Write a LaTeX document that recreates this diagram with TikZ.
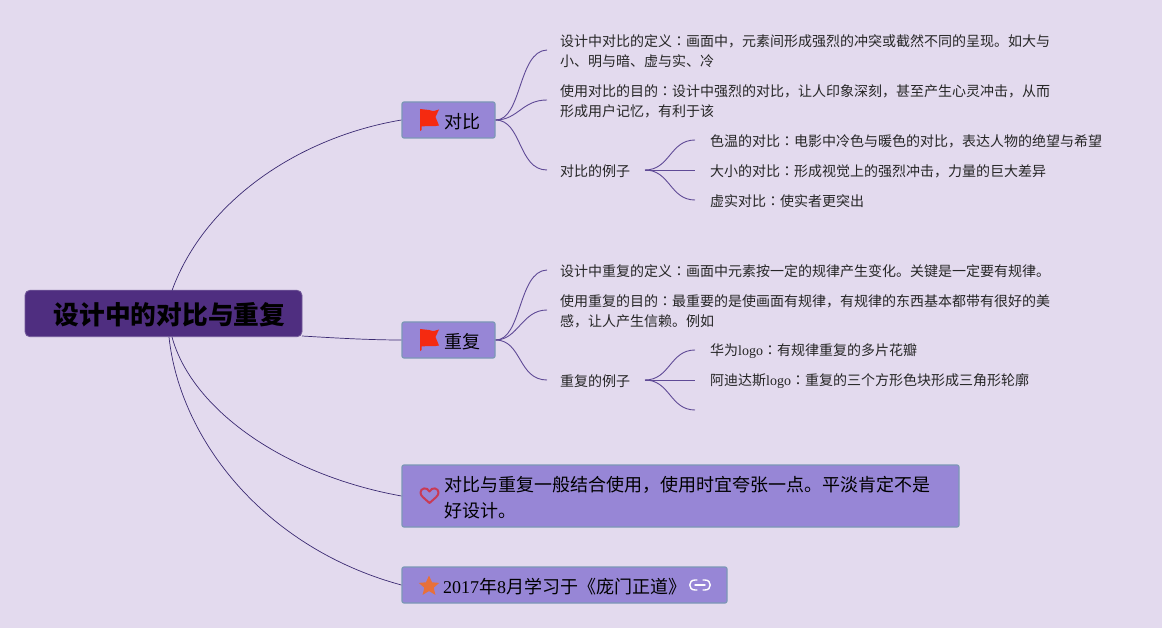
\documentclass[tikz,border=0pt]{standalone}
\usepackage{fontspec}
\setmainfont{Noto Sans CJK SC}
\newfontfamily\latf{Liberation Serif}
\newfontfamily\tcf{Noto Sans CJK TC}
\newcommand{\lat}[1]{{\latf #1}}
\newcommand{\cc}{{\tcf ：}}
\newcommand{\bl}[2]{\hspace*{#1}\raisebox{-2pt}[\height][\depth]{#2}}
\definecolor{bgc}{HTML}{E3DAEE}
\definecolor{rootc}{HTML}{4F2E80}
\definecolor{boxc}{HTML}{9786D6}
\definecolor{boxb}{HTML}{7C97B6}
\definecolor{linec}{HTML}{3B2A72}
\definecolor{sublinec}{HTML}{5F4A96}
\definecolor{flagc}{HTML}{F52A10}
\definecolor{heartc}{HTML}{C93A55}
\definecolor{starc}{HTML}{E8703A}
\tikzset{
  x=1pt,y=-1pt,
  rootbox/.style={fill=rootc,draw=rootc!80!white,rounded corners=5pt,line width=0.8pt,inner sep=0pt,text=black,font=\fontsize{25.7}{30}\selectfont\bfseries,minimum width=277pt,minimum height=46.5pt},
  topic/.style={fill=boxc,draw=boxb,rounded corners=2pt,line width=1.2pt,inner xsep=0pt,inner ysep=0pt,align=left,text=black,font=\fontsize{18}{26}\selectfont},
  leaf/.style={anchor=west,inner sep=0pt,align=left,text=black!85,font=\fontsize{14}{20}\selectfont},
  mainline/.style={draw=linec,line width=0.7pt},
  subline/.style={draw=sublinec,line width=0.9pt},
  linkline/.style={white,line width=1.4pt,line cap=round},
}
\begin{document}
\begin{tikzpicture}
\useasboundingbox[fill=bgc] (0,0) rectangle (1162,628);

% root and topics
\node[rootbox] (root) at (163.5,313.5) {\hspace*{12pt}\raisebox{-1pt}[\height][\depth]{设计中的对比与重复}};
\node[topic,text width=93pt,minimum height=36pt] (t1) at (448.5,120) {\bl{42pt}{对比}};
\node[topic,text width=93pt,minimum height=36pt] (t2) at (448.5,340) {\bl{42pt}{重复}};
\node[topic,text width=557pt,minimum height=62pt] (t3) at (680.5,496) {\bl{42pt}{对比与重复一般结合使用，使用时宜夸张一点。平淡肯定不是}\\\bl{42pt}{好设计。}};
\node[topic,text width=325pt,minimum height=36pt] (t4) at (564.5,585) {\bl{41pt}{\lat{2017}年\lat{8}月学习于《庞门正道》}};

% leaves
\node[leaf] (a1) at (560,51.5) {设计中对比的定义\cc 画面中，元素间形成强烈的冲突或截然不同的呈现。如大与\\小、明与暗、虚与实、冷};
\node[leaf] (a2) at (560,101.5) {使用对比的目的\cc 设计中强烈的对比，让人印象深刻，甚至产生心灵冲击，从而\\形成用户记忆，有利于该};
\node[leaf] (a3) at (560,171.5) {对比的例子};
\node[leaf] (a31) at (710,141.5) {色温的对比\cc 电影中冷色与暖色的对比，表达人物的绝望与希望};
\node[leaf] (a32) at (710,171.5) {大小的对比\cc 形成视觉上的强烈冲击，力量的巨大差异};
\node[leaf] (a33) at (710,201.5) {虚实对比\cc 使实者更突出};
\node[leaf] (b1) at (560,271.5) {设计中重复的定义\cc 画面中元素按一定的规律产生变化。关键是一定要有规律。};
\node[leaf] (b2) at (560,311.5) {使用重复的目的\cc 最重要的是使画面有规律，有规律的东西基本都带有很好的美\\感，让人产生信赖。例如};
\node[leaf] (b3) at (560,381.5) {重复的例子};
\node[leaf] (b31) at (710,351.5) {华为\lat{logo}\cc 有规律重复的多片花瓣};
\node[leaf] (b32) at (710,381.5) {阿迪达斯\lat{logo}\cc 重复的三个方形色块形成三角形轮廓};

% free connector ends
\coordinate (a3s) at (645,170);
\coordinate (b3s) at (645,380);
\coordinate (b33) at (695,410);
\coordinate (ra) at (172,290.5);
\coordinate (rb) at (302,336);
\coordinate (rc) at (172,337);
\coordinate (rd) at (169,337);

% root connectors
\draw[mainline] (ra) .. controls (205,200) and (300,137) .. (t1.west);
\draw[mainline] (rb) .. controls (335,338) and (370,340) .. (t2.west);
\draw[mainline] (rc) .. controls (192,410) and (285,475) .. (t3.west);
\draw[mainline] (rd) .. controls (180,440) and (265,548) .. (t4.west);

% topic connectors
\draw[subline] (t1.east) .. controls (522,120) and (518,51) .. (547,50);
\draw[subline] (t1.east) .. controls (518,120) and (522,100) .. (547,100);
\draw[subline] (t1.east) .. controls (522,120) and (518,170) .. (547,170);
\draw[subline] (t2.east) .. controls (522,340) and (518,271) .. (547,270);
\draw[subline] (t2.east) .. controls (518,340) and (522,310) .. (547,310);
\draw[subline] (t2.east) .. controls (522,340) and (518,380) .. (547,380);

% example connectors
\draw[subline] (a3s) .. controls (670,170) and (670,140) .. (695,140);
\draw[subline] (a3s) -- (695,170);
\draw[subline] (a3s) .. controls (670,170) and (670,200) .. (695,200);
\draw[subline] (b3s) .. controls (670,380) and (670,350) .. (695,350);
\draw[subline] (b3s) -- (695,380);
\draw[subline] (b3s) .. controls (670,380) and (670,410) .. (b33);

% flag icons
\foreach \yy in {0,220}{
  \fill[flagc] (420,109+\yy) -- (429,110+\yy) .. controls (433,111.5+\yy) and (436,111+\yy) .. (439,109.5+\yy)
    -- (435.5,117+\yy) -- (439,125.5+\yy) .. controls (434,127+\yy) and (428,125.5+\yy) .. (421.5,126.5+\yy) -- (421.5,130+\yy) -- (420,131+\yy) -- cycle;
}
% heart
\draw[draw=heartc,line width=2pt,line join=round]
  (429.5,503) .. controls (424,498) and (420.5,496) .. (420.5,492.5)
  .. controls (420.5,488) and (427,486.5) .. (429.5,491.5)
  .. controls (432,486.5) and (438.5,488) .. (438.5,492.5)
  .. controls (438.5,496) and (435,498) .. (429.5,503) -- cycle;
% star
\fill[starc] (429,575.5)
  -- ++(3,6.8) -- ++(7.2,0.6) -- ++(-5.5,4.8) -- ++(1.7,7.2) -- ++(-6.4,-3.8) -- ++(-6.4,3.8) -- ++(1.7,-7.2) -- ++(-5.5,-4.8) -- ++(7.2,-0.6) -- cycle;
% link icon
\draw[linkline] (697,580) -- (695,580) .. controls (688,580) and (688,590) .. (695,590) -- (697,590);
\draw[linkline] (703,580) -- (705,580) .. controls (712,580) and (712,590) .. (705,590) -- (703,590);
\draw[linkline] (695,585) -- (705,585);
\end{tikzpicture}
\end{document}
